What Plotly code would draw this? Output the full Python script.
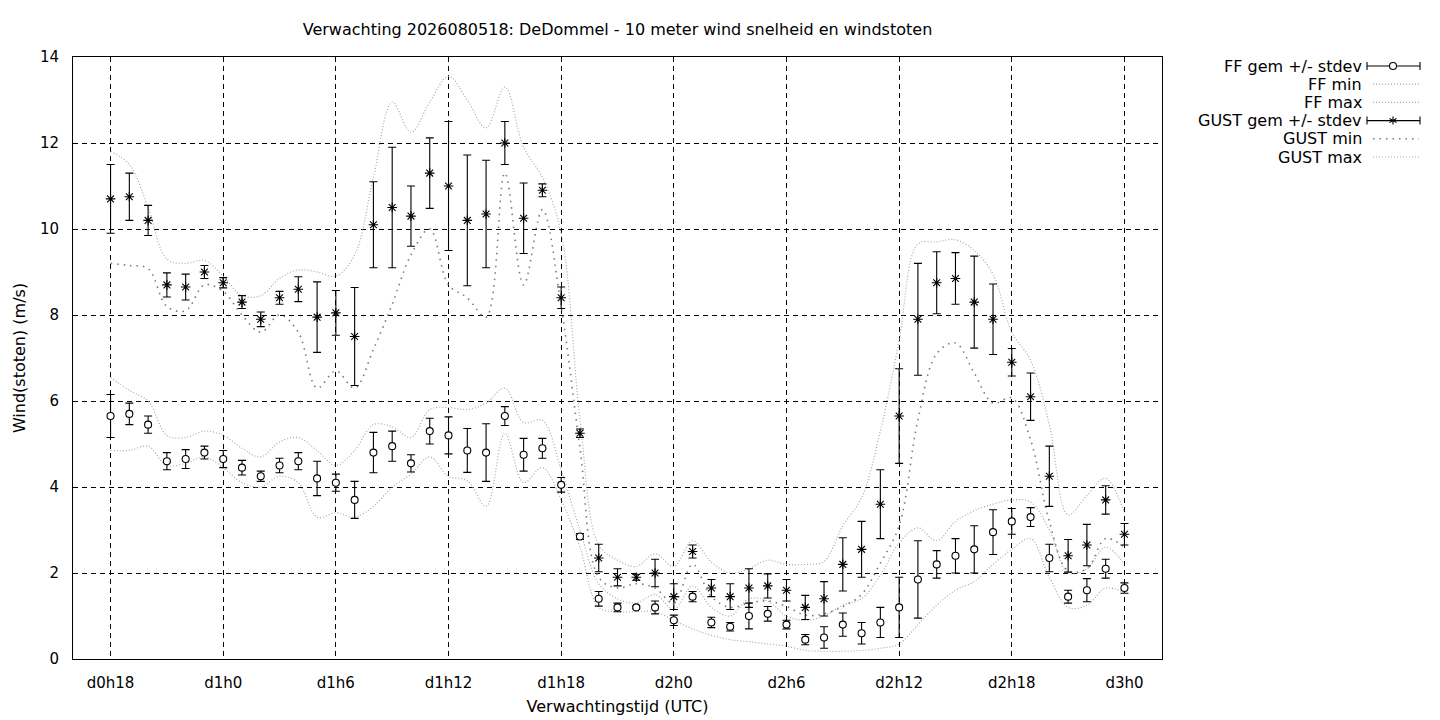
import plotly.graph_objects as go

# --- data --------------------------------------------------------------------
lead_hours = list(range(18, 73))  # d0h18 .. d3h0, hourly

ff_mean = [5.65, 5.7, 5.45, 4.6, 4.65, 4.8, 4.65, 4.45, 4.25, 4.5, 4.6, 4.2, 4.1, 3.7,
           4.8, 4.95, 4.55, 5.3, 5.2, 4.85, 4.8, 5.65, 4.75, 4.9, 4.05, 2.85, 1.4, 1.2,
           1.2, 1.2, 0.9, 1.45, 0.85, 0.75, 1.0, 1.05, 0.8, 0.45, 0.5, 0.8, 0.6, 0.85,
           1.2, 1.85, 2.2, 2.4, 2.55, 2.95, 3.2, 3.3, 2.35, 1.45, 1.6, 2.1, 1.65]
ff_std = [0.5, 0.25, 0.2, 0.2, 0.22, 0.15, 0.2, 0.17, 0.12, 0.17, 0.2, 0.4, 0.2, 0.43,
          0.47, 0.35, 0.2, 0.3, 0.43, 0.51, 0.67, 0.22, 0.38, 0.23, 0.17, 0.07, 0.17, 0.1,
          0.03, 0.15, 0.12, 0.12, 0.12, 0.1, 0.3, 0.17, 0.1, 0.12, 0.25, 0.27, 0.25, 0.35,
          0.7, 0.9, 0.32, 0.4, 0.55, 0.52, 0.3, 0.22, 0.32, 0.15, 0.27, 0.22, 0.12]
ff_min = [4.85, 4.85, 4.95, 4.5, 4.55, 4.7, 4.45, 4.1, 4.0, 4.25, 4.1, 3.3, 3.4, 3.3,
          3.55, 4.0, 4.3, 4.7, 4.25, 4.15, 3.55, 5.25, 4.1, 4.45, 3.7, 2.6, 1.2, 1.1,
          1.1, 1.1, 0.9, 0.7, 0.55, 0.45, 0.4, 0.35, 0.3, 0.2, 0.18, 0.18, 0.2, 0.25,
          0.35, 0.8, 1.25, 1.6, 1.8, 2.2, 2.55, 2.8, 1.9, 1.2, 1.25, 1.65, 1.55]
ff_max = [6.55, 6.25, 6.0, 5.2, 5.15, 5.3, 5.2, 4.9, 4.7, 5.05, 5.15, 4.85, 4.5, 4.85,
          5.45, 5.4, 5.15, 5.8, 5.85, 5.8, 5.95, 6.3, 5.5, 5.55, 4.4, 3.0, 1.75, 1.4,
          1.3, 1.5, 1.15, 1.7, 1.2, 1.0, 1.4, 1.35, 1.0, 0.9, 1.0, 1.25, 1.4, 1.95,
          2.7, 3.05, 2.75, 3.2, 3.45, 3.6, 3.7, 3.65, 3.0, 2.0, 2.1, 2.6, 2.2]

gust_mean = [10.7, 10.75, 10.2, 8.7, 8.65, 9.0, 8.75, 8.3, 7.9, 8.4, 8.6, 7.95, 8.05, 7.5,
             10.1, 10.5, 10.3, 11.3, 11.0, 10.2, 10.35, 12.0, 10.25, 10.9, 8.4, 5.25, 2.35,
             1.9, 1.9, 2.0, 1.45, 2.5, 1.65, 1.45, 1.65, 1.7, 1.6, 1.2, 1.4, 2.2, 2.55, 3.6,
             5.65, 7.9, 8.75, 8.85, 8.3, 7.9, 6.9, 6.1, 4.25, 2.4, 2.65, 3.7, 2.9]
gust_std = [0.8, 0.55, 0.35, 0.28, 0.3, 0.15, 0.12, 0.15, 0.17, 0.15, 0.29, 0.82, 0.52, 1.14,
            1.0, 1.4, 0.7, 0.82, 1.5, 1.52, 1.25, 0.5, 0.82, 0.15, 0.25, 0.1, 0.32,
            0.2, 0.07, 0.32, 0.3, 0.15, 0.2, 0.3, 0.45, 0.28, 0.25, 0.28, 0.4, 0.62, 0.65, 0.8,
            1.1, 1.3, 0.72, 0.6, 1.07, 0.82, 0.32, 0.55, 0.7, 0.38, 0.48, 0.33, 0.25]
gust_min = [9.2, 9.15, 9.08, 8.2, 8.1, 8.7, 8.55, 8.0, 7.6, 8.0, 7.6, 6.3, 6.7, 6.3,
            7.2, 8.25, 9.4, 10.0, 8.7, 8.4, 7.95, 11.3, 8.7, 10.45, 8.2, 4.9, 1.9,
            1.65, 1.75, 1.65, 1.3, 2.2, 1.45, 1.2, 1.3, 1.35, 1.22, 1.02, 1.05, 1.22, 1.5, 2.23,
            3.1, 5.56, 7.1, 7.35, 6.65, 5.95, 6.07, 5.1, 3.2, 2.05, 2.1, 2.8, 2.6]
gust_max = [11.8, 11.5, 10.5, 9.3, 9.2, 9.27, 8.9, 8.45, 8.45, 8.85, 9.05, 9.0, 8.9, 9.4,
            11.2, 12.95, 12.25, 12.95, 13.55, 13.0, 12.35, 13.3, 11.9, 11.2, 9.9, 5.6, 2.65,
            2.3, 2.15, 2.45, 2.15, 2.75, 2.25, 2.0, 2.1, 2.3, 2.2, 2.2, 2.27, 3.1, 3.75, 5.3,
            7.4, 9.65, 9.7, 9.75, 9.5, 8.95, 7.6, 6.95, 5.45, 3.35, 3.8, 4.2, 3.4]

tick_hours = [18, 24, 30, 36, 42, 48, 54, 60, 66, 72]
tick_text = ["d0h18", "d1h0", "d1h6", "d1h12", "d1h18", "d2h0", "d2h6", "d2h12", "d2h18", "d3h0"]

legend_names = ["FF gem +/- stdev", "FF min", "FF max",
                "GUST gem +/- stdev", "GUST min", "GUST max"]

# --- style -------------------------------------------------------------------
FONT = "DejaVu Sans, Arial, sans-serif"
LIGHT = "#a8a8a8"
DARK = "#7a7a7a"
FINE_DOT = "1px,2px"
WIDE_DOT = "1.5px,5px"
PAGE = 8  # body margin of the html page shifts the figure by this much

# plot area in window pixels: x 73..1162, y 57..659
L, R, T, B = 73, 1162, 57, 659


def px(x):
    return (x - L) / (R - L)


def py(y):
    return (B - y) / (B - T)


fig = go.Figure()


def curve(y, color, dash, width=1.2):
    fig.add_trace(go.Scatter(
        x=lead_hours, y=y, mode="lines", showlegend=False, hoverinfo="skip",
        line=dict(color=color, dash=dash, width=width, shape="spline", smoothing=1.0),
    ))


curve(ff_min, LIGHT, FINE_DOT)
curve(ff_max, LIGHT, FINE_DOT)
curve(gust_min, DARK, WIDE_DOT, 1.6)
curve(gust_max, LIGHT, FINE_DOT)

err = dict(type="data", thickness=1.1, width=4, color="black")
fig.add_trace(go.Scatter(
    x=lead_hours, y=gust_mean, mode="markers", showlegend=False,
    error_y=dict(array=gust_std, **err),
    marker=dict(symbol="asterisk-open", size=8, color="black", line=dict(width=1.1, color="black")),
))
fig.add_trace(go.Scatter(
    x=lead_hours, y=ff_mean, mode="markers", showlegend=False,
    error_y=dict(array=ff_std, **err),
    marker=dict(symbol="circle", size=7, color="white", line=dict(width=1.1, color="black")),
))

# --- hand-drawn key, gnuplot style (text left, sample right) ----------------
shapes = []
annotations = []
row_y = [66, 84.2, 102.4, 120.6, 138.8, 157]
s0, s1, sm = 1367, 1420, 1393
for name, yy in zip(legend_names, row_y):
    annotations.append(dict(
        text=name, xref="paper", yref="paper", x=px(1364), y=py(yy),
        xanchor="right", yanchor="middle", showarrow=False,
        font=dict(family=FONT, size=16, color="black"),
    ))
    if "gem" in name:
        shapes.append(dict(type="line", xref="paper", yref="paper",
                           x0=px(s0), x1=px(s1), y0=py(yy), y1=py(yy),
                           line=dict(color="black", width=1.1)))
        for xe in (s0, s1):
            shapes.append(dict(type="line", xref="paper", yref="paper",
                               x0=px(xe), x1=px(xe), y0=py(yy - 4), y1=py(yy + 4),
                               line=dict(color="black", width=1.1)))
        if name.startswith("FF"):
            shapes.append(dict(type="circle", xref="paper", yref="paper",
                               x0=px(sm - 3.5), x1=px(sm + 3.5),
                               y0=py(yy + 3.5), y1=py(yy - 3.5),
                               fillcolor="white", line=dict(color="black", width=1.1)))
        else:
            for dx, dy in ((0, 4), (3.5, 2), (3.5, -2)):
                shapes.append(dict(type="line", xref="paper", yref="paper",
                                   x0=px(sm - dx), x1=px(sm + dx),
                                   y0=py(yy - dy), y1=py(yy + dy),
                                   line=dict(color="black", width=1.1)))
    else:
        gust_min_row = name == "GUST min"
        shapes.append(dict(type="line", xref="paper", yref="paper",
                           x0=px(1373), x1=px(1419), y0=py(yy), y1=py(yy),
                           line=dict(color=DARK if gust_min_row else LIGHT,
                                     width=1.6 if gust_min_row else 1.2,
                                     dash=WIDE_DOT if gust_min_row else FINE_DOT)))

axis = dict(showline=True, linecolor="black", linewidth=1, mirror=True,
            showgrid=True, gridcolor="black", gridwidth=1, griddash="5px,4px",
            zeroline=False, ticks="", tickfont=dict(family=FONT, size=15, color="black"),
            title_font=dict(family=FONT, size=16, color="black"))

fig.update_layout(
    width=1440, height=720,
    paper_bgcolor="white", plot_bgcolor="white",
    margin=dict(l=L - PAGE, r=1440 - R + PAGE, t=T - PAGE, b=720 - B + PAGE),
    showlegend=False,
    title=dict(text="Verwachting 2026080518: DeDommel - 10 meter wind snelheid en windstoten",
               x=px((L + R) / 2), xref="paper", xanchor="center",
               y=1 - (29 - PAGE) / 720, yref="container", yanchor="middle",
               font=dict(family=FONT, size=16, color="black")),
    xaxis=dict(axis, range=[16, 74], tickvals=tick_hours, ticktext=tick_text,
               ticklabelstandoff=10, title=dict(text="Verwachtingstijd (UTC)", standoff=9)),
    yaxis=dict(axis, range=[0, 14], dtick=2, ticklabelstandoff=10,
               title=dict(text="Wind(stoten) (m/s)", standoff=10)),
    shapes=shapes, annotations=annotations,
)

fig.write_html("out.html")
